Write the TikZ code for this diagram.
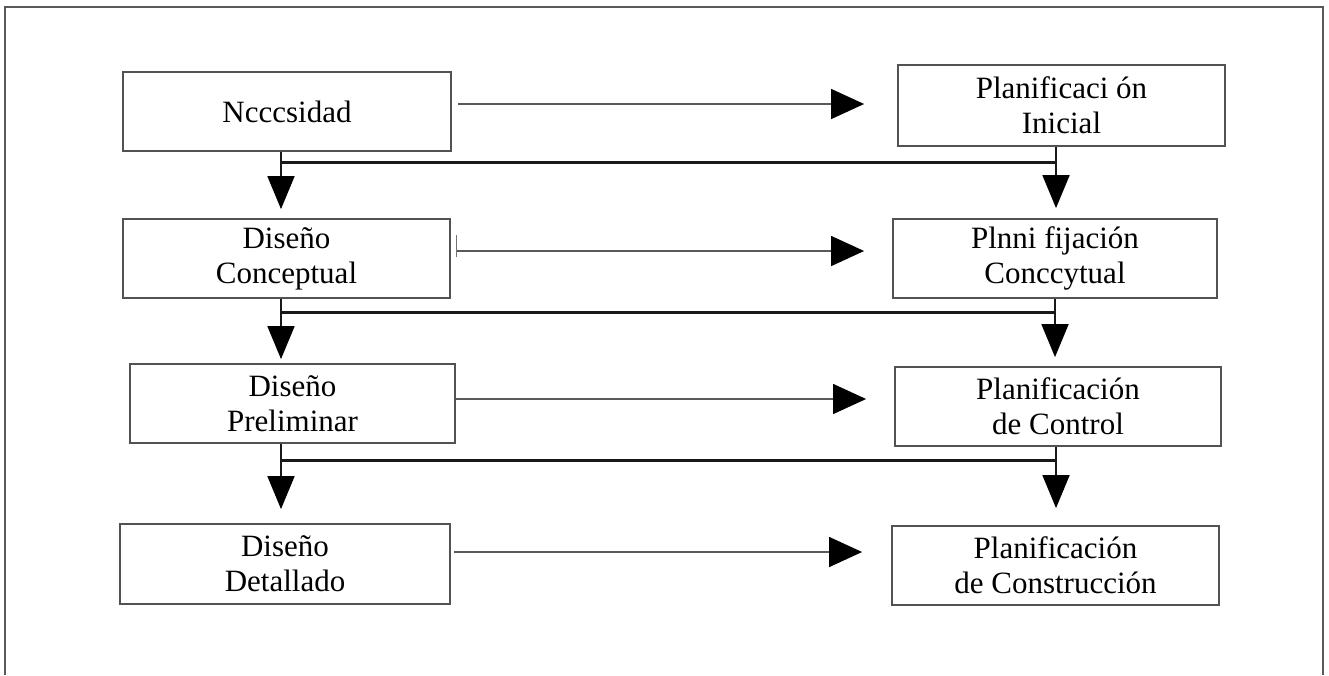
\documentclass[tikz,border=0pt]{standalone}
\usepackage{fontspec}
\setmainfont{Liberation Serif}
\usetikzlibrary{arrows.meta}
\tikzset{
  box/.style={draw=black!68, line width=1.8pt, minimum height=80pt, inner sep=0pt,
    align=center, font=\fontsize{31}{35}\selectfont},
  busline/.style={line width=3pt, black!90},
  stem/.style={line width=1.8pt, black!90},
  varrow/.style={line width=1.8pt, black!90, -{Triangle[length=33pt,width=27pt,fill=black,color=black]}},
  harrow/.style={line width=1.4pt, black!65, -{Triangle[length=33pt,width=30pt,fill=black,color=black]}},
  frame/.style={line width=2pt, black!65}
}
\begin{document}
\begin{tikzpicture}[x=1pt,y=-1pt]
\useasboundingbox (0,0) rectangle (1329,675);
\draw[frame] (5,675) -- (5,7) -- (1323,7) -- (1323,675);

% left column
\node[box, minimum width=328pt, minimum height=79pt] (L1) at (287,111.5) {Ncccsidad};
\node[box, minimum width=327pt, minimum height=79pt] (L2) at (286.5,258.5) {Diseño\\Conceptual};
\node[box, minimum width=325pt, minimum height=79pt] (L3) at (292.5,403.5) {Diseño\\Preliminar};
\node[box, minimum width=330pt, minimum height=80pt] (L4) at (285,564) {Diseño\\Detallado};
% right column
\node[box, minimum width=327pt, minimum height=81pt] (R1) at (1061.5,105.5) {Planificaci ón\\Inicial};
\node[box, minimum width=324pt, minimum height=79pt] (R2) at (1055,258.5) {Plnni fijación\\Conccytual};
\node[box, minimum width=326pt, minimum height=79pt] (R3) at (1058,406.5) {Planificación\\de Control};
\node[box, minimum width=327pt, minimum height=79pt] (R4) at (1055.5,565.5) {Planificación\\de Construcción};

% bus coordinates
\coordinate (b1) at (281,162);  \coordinate (c1) at (1056,162);
\coordinate (b2) at (281,312);  \coordinate (c2) at (1055,312);
\coordinate (b3) at (281,460);  \coordinate (c3) at (1056,460);

% row 1 -> 2
\draw[stem] (L1.south -| b1) -- (b1);
\draw[stem] (R1.south -| c1) -- (c1);
\draw[busline] (b1) -- (c1);
\draw[varrow, shorten >=9pt] (b1) -- (L2.north -| b1);
\draw[varrow, shorten >=10pt] (c1) -- (R2.north -| c1);
% row 2 -> 3
\draw[stem] (L2.south -| b2) -- (b2);
\draw[stem] (R2.south -| c2) -- (c2);
\draw[busline] (b2) -- (c2);
\draw[varrow, shorten >=4pt] (b2) -- (L3.north -| b2);
\draw[varrow, shorten >=9pt] (c2) -- (R3.north -| c2);
% row 3 -> 4
\draw[stem] (L3.south -| b3) -- (b3);
\draw[stem] (R3.south -| c3) -- (c3);
\draw[busline] (b3) -- (c3);
\draw[varrow, shorten >=14pt] (b3) -- (L4.north -| b3);
\draw[varrow, shorten >=17pt] (c3) -- (R4.north -| c3);

% horizontal arrows
\coordinate (h1) at ([shift={(6,-7.5)}]L1.east);
\coordinate (h2) at ([shift={(6,-7.5)}]L2.east);
\coordinate (h3) at ([shift={(0,-4.5)}]L3.east);
\coordinate (h4) at ([shift={(3,-12)}]L4.east);
\draw[harrow, shorten >=33pt] (h1) -- (h1 -| R1.west);
\draw[harrow, shorten >=28pt] (h2) -- (h2 -| R2.west);
\draw[line width=1pt, black!55] ([yshift=-6pt]h2) -- ([yshift=16pt]h2);
\draw[harrow, shorten >=28pt] (h3) -- (h3 -| R3.west);
\draw[harrow, shorten >=29pt] (h4) -- (h4 -| R4.west);
\end{tikzpicture}
\end{document}
